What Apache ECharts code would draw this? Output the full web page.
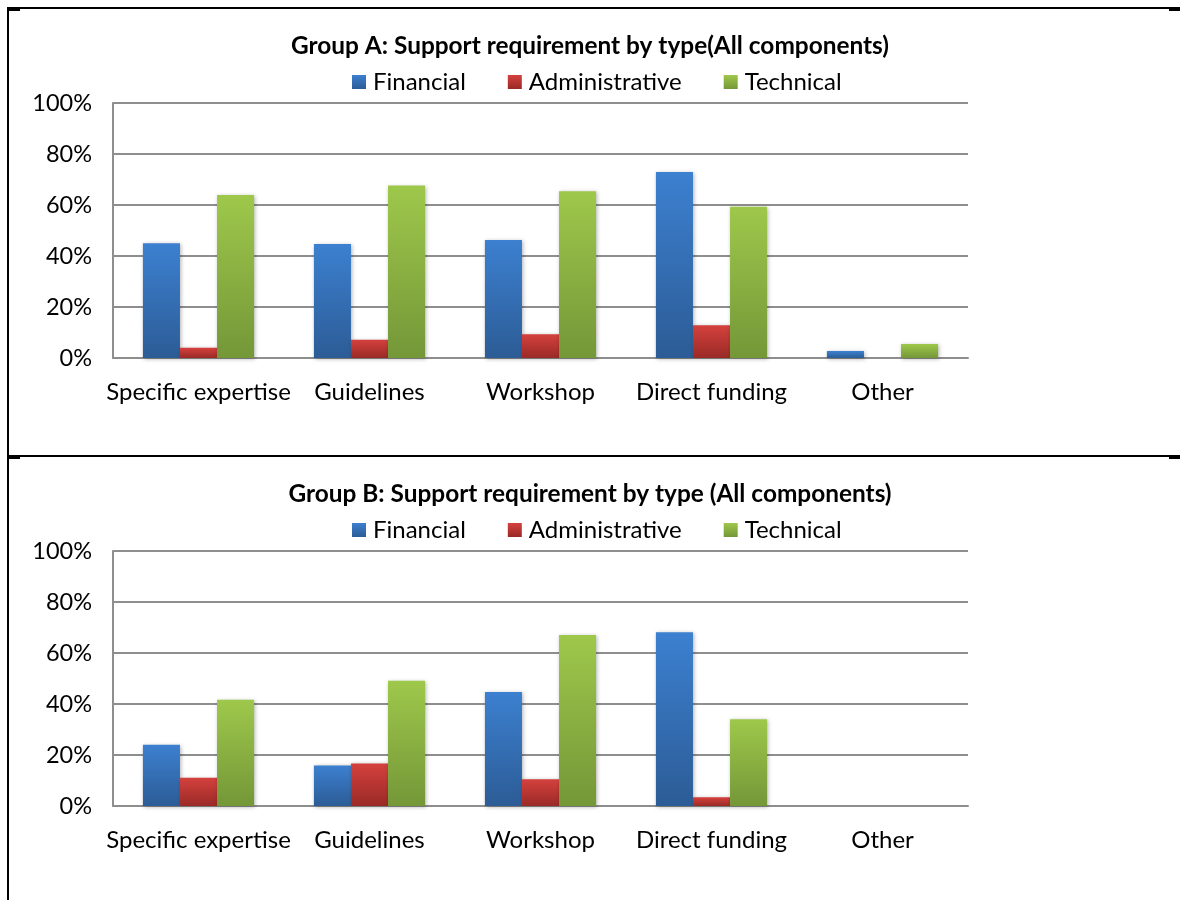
<!DOCTYPE html>
<html>
<head>
<meta charset="utf-8">
<script src="https://cdn.jsdelivr.net/npm/echarts@6/dist/echarts.min.js"></script>
<style>
html,body{margin:0;padding:0;background:#fff;}
#main{width:1180px;height:900px;}
</style>
</head>
<body>
<div id="main"></div>
<script>
// ---- data ----
const categories = ['Specific expertise', 'Guidelines', 'Workshop', 'Direct funding', 'Other'];
const seriesNames = ['Financial', 'Administrative', 'Technical'];

const titleA = 'Group A: Support requirement by type(All components)';
const financialA = [45, 44.7, 46.3, 72.9, 2.7];
const administrativeA = [4.0, 7.2, 9.3, 12.8, 0];
const technicalA = [63.9, 67.6, 65.4, 59.3, 5.5];

const titleB = 'Group B: Support requirement by type (All components)';
const financialB = [24.0, 15.9, 44.7, 68.1, 0];
const administrativeB = [11.1, 16.7, 10.5, 3.4, 0];
const technicalB = [41.7, 49.1, 67.1, 34.0, 0];

const yMin = 0, yMax = 100, yInterval = 20;

// ---- styles ----
const FONT = 'Lato, "Open Sans", sans-serif';
function grad(top, bottom) {
  return new echarts.graphic.LinearGradient(0, 0, 0, 1, [
    {offset: 0, color: top}, {offset: 1, color: bottom}
  ]);
}
const colors = [
  grad('#3c80d0', '#2c5c96'),
  grad('#d4413d', '#9a2a27'),
  grad('#9ec84b', '#749738')
];
const gridColor = '#8e8e8e';

function makeGrid(top) {
  return {left: 113, top: top, width: 855, height: 255, containLabel: false};
}
function makeX(idx) {
  return {
    type: 'category', gridIndex: idx, data: categories,
    axisLine: {show: true, lineStyle: {color: gridColor, width: 2}},
    axisTick: {show: false},
    axisLabel: {color: '#000', fontSize: 24, fontFamily: FONT, margin: 22, interval: 0}
  };
}
function makeY(idx) {
  return {
    type: 'value', gridIndex: idx, min: yMin, max: yMax, interval: yInterval,
    axisLine: {show: true, lineStyle: {color: gridColor, width: 2}},
    axisTick: {show: false},
    splitLine: {show: true, lineStyle: {color: gridColor, width: 2}},
    axisLabel: {color: '#000', fontSize: 23.5, fontFamily: FONT, margin: 21, formatter: '{value}%'}
  };
}
function makeSeries(name, data, idx, ci) {
  return {
    name: name, type: 'bar', xAxisIndex: idx, yAxisIndex: idx, data: data,
    barGap: '0%', barCategoryGap: '35%',
    itemStyle: {color: colors[ci], shadowBlur: 4, shadowColor: 'rgba(0,0,0,0.3)', shadowOffsetX: 1, shadowOffsetY: 1},
    emphasis: {disabled: true},
    animation: false
  };
}
function makeLegend(top) {
  return {
    top: top, left: 347, data: seriesNames,
    icon: 'rect', itemWidth: 14, itemHeight: 14, itemGap: 42,
    textStyle: {color: '#000', fontSize: 24, fontFamily: FONT, padding: [0, 0, 0, 2]}
  };
}
function makeTitle(text, top) {
  return {
    text: text, left: 'center', top: top,
    textStyle: {color: '#000', fontSize: 24.4, fontWeight: 'bold', fontFamily: FONT}
  };
}

const chart = echarts.init(document.getElementById('main'), null, {renderer: 'canvas'});
const lineStyle = {stroke: '#000', lineWidth: 2};
chart.setOption({
  backgroundColor: '#fff',
  animation: false,
  title: [makeTitle(titleA, 29), makeTitle(titleB, 477)],
  legend: [makeLegend(65), makeLegend(513)],
  grid: [makeGrid(103), makeGrid(551)],
  xAxis: [makeX(0), makeX(1)],
  yAxis: [makeY(0), makeY(1)],
  series: [
    makeSeries(seriesNames[0], financialA, 0, 0),
    makeSeries(seriesNames[1], administrativeA, 0, 1),
    makeSeries(seriesNames[2], technicalA, 0, 2),
    makeSeries(seriesNames[0], financialB, 1, 0),
    makeSeries(seriesNames[1], administrativeB, 1, 1),
    makeSeries(seriesNames[2], technicalB, 1, 2)
  ],
  graphic: [
    {type: 'line', shape: {x1: 7, y1: 8, x2: 1180, y2: 8}, style: lineStyle, silent: true},
    {type: 'line', shape: {x1: 8, y1: 7, x2: 8, y2: 900}, style: lineStyle, silent: true},
    {type: 'line', shape: {x1: 7, y1: 456, x2: 1180, y2: 456}, style: lineStyle, silent: true},
    {type: 'line', shape: {x1: 8, y1: 10, x2: 20, y2: 10}, style: lineStyle, silent: true},
    {type: 'line', shape: {x1: 1169, y1: 10, x2: 1180, y2: 10}, style: lineStyle, silent: true},
    {type: 'line', shape: {x1: 8, y1: 458, x2: 20, y2: 458}, style: lineStyle, silent: true},
    {type: 'line', shape: {x1: 1169, y1: 458, x2: 1180, y2: 458}, style: lineStyle, silent: true}
  ]
});
</script>
</body>
</html>
